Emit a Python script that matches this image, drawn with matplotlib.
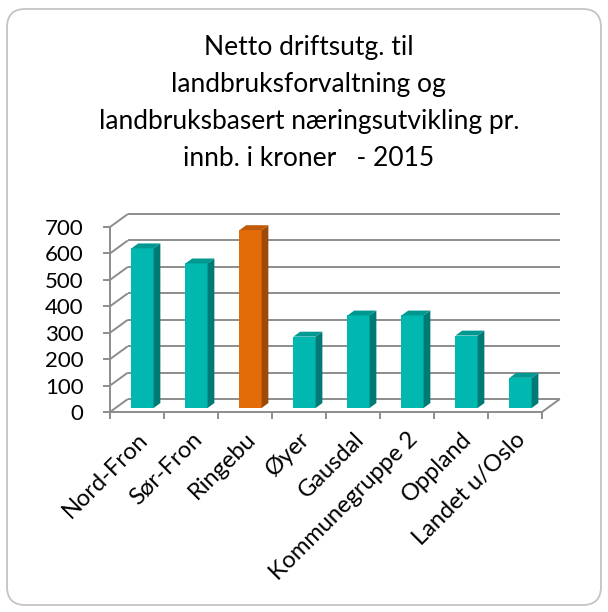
"""
Netto driftsutgifter til landbruk pr. innbygger, 2015.
Excel-style pseudo-3D column chart drawn with flat matplotlib patches.
"""
import matplotlib.pyplot as plt
from matplotlib.patches import FancyBboxPatch, Polygon

plt.rcParams["font.family"] = ["Lato", "DejaVu Sans"]

TITLE = ("Netto driftsutg. til\nlandbruksforvaltning og\n"
         "landbruksbasert næringsutvikling pr.\ninnb. i kroner   - 2015")

CATEGORIES = ["Nord-Fron", "Sør-Fron", "Ringebu", "Øyer", "Gausdal",
              "Kommunegruppe 2", "Oppland", "Landet u/Oslo"]
VALUES = [604, 547, 673, 270, 350, 350, 274, 114]
HIGHLIGHT = "Ringebu"
Y_TICKS = [0, 100, 200, 300, 400, 500, 600, 700]

# face colours: front, side, top
TEAL = ("#00b8b0", "#007a74", "#009891")
ORANGE = ("#e36c09", "#9c4a06", "#c05a07")
GRID = "#8c8c8c"

# depth of the "3D" box in data units (x: categories, y: value)
DX, DY = 0.33, 49
BAR_W = 0.41
T0, DEPTH = 0.31, 0.38   # bar front plane and bar depth, as fraction of box


def draw_walls(ax, n):
    kw = dict(color=GRID, lw=1.4, clip_on=False, zorder=1,
              solid_capstyle="butt")
    for v in Y_TICKS:
        # back wall gridline + left wall diagonal
        ax.plot([-0.5 + DX, n - 0.5 + DX], [v + DY, v + DY], **kw)
        ax.plot([-0.5, -0.5 + DX], [v, v + DY], **kw)
    # right edge of the floor
    ax.plot([n - 0.5, n - 0.5 + DX], [0, DY], **kw)


def draw_bars(ax):
    for i, (cat, val) in enumerate(zip(CATEGORIES, VALUES)):
        front, side, top = ORANGE if cat == HIGHLIGHT else TEAL
        x0 = i + T0 * DX - BAR_W / 2
        x1 = x0 + BAR_W
        y0 = T0 * DY
        y1 = val + T0 * DY
        ddx, ddy = DEPTH * DX, DEPTH * DY
        ax.bar(x0 + BAR_W / 2, val, width=BAR_W, bottom=y0, color=front,
               zorder=3, clip_on=False)
        ax.add_patch(Polygon([(x1, y0), (x1 + ddx, y0 + ddy),
                              (x1 + ddx, y1 + ddy), (x1, y1)],
                             closed=True, color=side, zorder=3,
                             clip_on=False, lw=0))
        ax.add_patch(Polygon([(x0, y1), (x1, y1), (x1 + ddx, y1 + ddy),
                              (x0 + ddx, y1 + ddy)],
                             closed=True, color=top, zorder=3,
                             clip_on=False, lw=0))


def main():
    fig = plt.figure(figsize=(6.08, 6.12), dpi=100)
    fig.patch.set_facecolor("white")

    # rounded chart-area border
    W, H = 608, 612
    fig.add_artist(FancyBboxPatch(
        (7 / W, 7 / H), 594 / W, 596 / H,
        boxstyle="round,pad=0,rounding_size=0.03",
        transform=fig.transFigure, fc="none", ec="#c4c4c4", lw=1.3))

    fig.text(0.508, 0.942, TITLE, ha="center", va="top", fontsize=19,
             linespacing=1.6)

    # axes box = front face of the plot: x 110..542 px, y 227..412 px
    ax = fig.add_axes([110 / W, 1 - 412 / H, 432 / W, 185 / H])
    n = len(CATEGORIES)
    ax.set_xlim(-0.5, n - 0.5)
    ax.set_ylim(0, 700)
    for side in ("top", "right"):
        ax.spines[side].set_visible(False)
    for side in ("left", "bottom"):
        ax.spines[side].set_color(GRID)
        ax.spines[side].set_linewidth(1.4)

    ax.set_yticks(Y_TICKS)
    ax.tick_params(axis="y", length=5, width=1.4, color=GRID, labelsize=16,
                   pad=14)
    ax.set_xticks(range(n), CATEGORIES)
    ax.set_xticks([i - 0.5 for i in range(n + 1)], minor=True)
    ax.tick_params(axis="x", which="major", length=0, labelsize=17, pad=12)
    ax.tick_params(axis="x", which="minor", length=5, width=1.4, color=GRID)
    for lbl in ax.get_xticklabels():
        lbl.set_rotation(45)
        lbl.set_ha("right")
        lbl.set_rotation_mode("anchor")

    draw_walls(ax, n)
    draw_bars(ax)

    fig.savefig("out.png", dpi=100, facecolor="white")


if __name__ == "__main__":
    main()
